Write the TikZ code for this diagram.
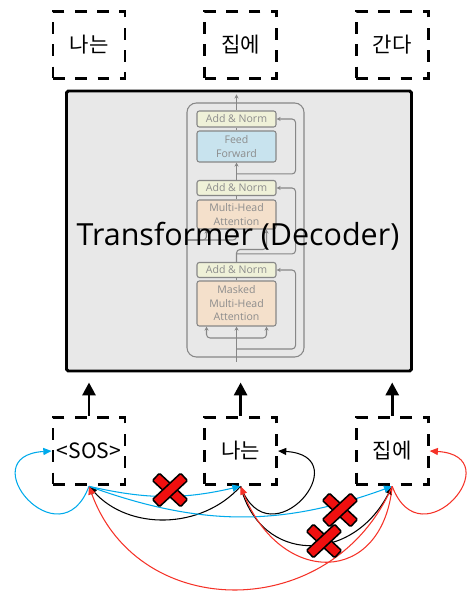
\documentclass[tikz,border=0pt]{standalone}
\usepackage{fontspec}
\setmainfont{Open Sans}
\newfontfamily\kr{Noto Sans CJK KR}
\usepackage{tikz}
\usetikzlibrary{arrows.meta, positioning, calc}
\definecolor{attblue}{RGB}{0,170,235}
\definecolor{attred}{RGB}{245,50,40}
\definecolor{crossred}{RGB}{240,15,15}
\definecolor{normfill}{RGB}{239,241,216}
\definecolor{fffill}{RGB}{200,227,238}
\definecolor{mhafill}{RGB}{244,224,203}
\definecolor{decgray}{RGB}{135,135,135}

\begin{document}
\begin{tikzpicture}[
    x=0.03cm, y=0.03cm,
    tokbox/.style={draw, dash pattern=on 10pt off 9pt, line width=2.5pt, minimum width=2.16cm, minimum height=2.03cm, font=\kr\fontsize{18}{21}\selectfont},
    decbox/.style={draw, line width=2.5pt, fill=black!9, rounded corners=1.5pt, minimum width=10.35cm, minimum height=8.4cm},
    sublayer/.style={draw=decgray, line width=0.9pt, rounded corners=2pt, minimum width=2.37cm, text=black!45, align=center, inner sep=0pt, font=\fontsize{9}{11.5}\selectfont},
    feed/.style={-{Triangle[width=11pt,length=11pt]}, line width=2.5pt},
    att/.style={-{Triangle[width=6pt,length=7pt]}, line width=0.9pt},
    wire/.style={decgray, line width=0.9pt, rounded corners=3pt},
    wirearrow/.style={wire, -{Stealth[length=3.5pt,width=3.5pt]}},
    xbar/.style={draw, fill=crossred, line width=1.3pt, rounded corners=1pt, minimum width=1.15cm, minimum height=0.3cm, inner sep=0pt},
]
  \useasboundingbox (0,0) rectangle (467,596);

  % outputs
  \node[tokbox] (o1) at (89,551) {나는};
  \node[tokbox, right=2.3cm of o1] (o2) {집에};
  \node[tokbox, right=2.3cm of o2] (o3) {간다};

  % decoder
  \node[decbox] (dec) at (239,365) {};
  \draw[wire, rounded corners=8pt] (187,239) rectangle (304,493);
  \node[sublayer, fill=normfill, minimum height=0.48cm] (an1) at (236.5,477) {Add \& Norm};
  \node[sublayer, fill=fffill, minimum height=0.93cm] (ff) at (236.5,449.5) {Feed\\Forward};
  \node[sublayer, fill=normfill, minimum height=0.45cm] (an2) at (236.5,408) {Add \& Norm};
  \node[sublayer, fill=mhafill, minimum height=0.87cm] (mha) at (236.5,381.5) {Multi-Head\\Attention};
  \node[sublayer, fill=normfill, minimum height=0.45cm] (an3) at (236.5,326) {Add \& Norm};
  \node[sublayer, fill=mhafill, minimum height=1.35cm] (mm) at (236.5,292.5) {Masked\\Multi-Head\\Attention};
  \coordinate (decin) at (236.5,234);

  \draw[wirearrow] (decin) -- (mm.south);
  \draw[wirearrow] ($(decin)+(0,24)$) -| ($(mm.south)+(-30,0)$);
  \draw[wirearrow] ($(decin)+(0,24)$) -| ($(mm.south)+(30,0)$);
  \draw[wirearrow] ($(decin)+(0,13)$) -| ($(an3.east)+(19,0)$) -- (an3.east);
  \draw[wire] (mm.north) -- (an3.south);
  \draw[wirearrow] (an3.north) |- ($(mha.south)+(30,-20)$) -- ($(mha.south)+(30,0)$);
  \draw[wirearrow] ($(an3.north)+(0,8)$) -| ($(an2.east)+(19,0)$) -- (an2.east);
  \draw[wirearrow] (187,356) -| ($(mha.south)+(-30,0)$);
  \draw[wirearrow] (187,356) -| (mha.south);
  \draw[wire] (mha.north) -- (an2.south);
  \draw[wirearrow] (an2.north) -- (ff.south);
  \draw[wirearrow] ($(an2.north)+(0,6)$) -| ($(an1.east)+(19,0)$) -- (an1.east);
  \draw[wire] (ff.north) -- (an1.south);
  \draw[wirearrow] (an1.north) -- ++(0,16);

  \node[font=\fontsize{26}{31}\selectfont] (title) at (238,360) {Transformer (Decoder)};

  % inputs
  \node[tokbox] (i1) at (89,145) {<SOS>};
  \node[tokbox, right=2.3cm of i1] (i2) {나는};
  \node[tokbox, right=2.3cm of i2] (i3) {집에};

  \foreach \n in {i1,i2,i3}
    \draw[feed] (\n.north) -- ($(\n.north |- dec.south)+(0,-10)$);

  % masked attention
  \draw[att] (i2.south) to[bend left=48] (i1.south);
  \draw[att] (i2.south) .. controls +(29,-77) and +(82,-5) .. (i2.east);
  \draw[att] (i2.south) .. controls +(20,-78) and +(-40,-78) .. (i3.south);
  \draw[att, attblue] (i1.south) .. controls +(-29,-77) and +(-82,-5) .. (i1.west);
  \draw[att, attblue] (i1.south) to[bend right=13] (i2.south);
  \draw[att, attblue] (i1.south) to[bend right=20] (i3.south);
  \draw[att, attred] (i3.south) .. controls +(29,-77) and +(82,-5) .. (i3.east);
  \draw[att, attred] (i3.south) .. controls +(-10,-100) and +(40,-100) .. (i2.south);
  \draw[att, attred] (i3.south) .. controls +(-60,-137) and +(50,-137) .. (i1.south);

  \node[xbar, rotate=-43] (x1a) at (170,106) {};
  \node[xbar, rotate=43] (x1b) at (170,106) {};
  \node[xbar, rotate=-43] (x2a) at (340,86) {};
  \node[xbar, rotate=43] (x2b) at (340,86) {};
  \node[xbar, rotate=-43] (x3a) at (324,55) {};
  \node[xbar, rotate=43] (x3b) at (324,55) {};
\end{tikzpicture}
\end{document}
